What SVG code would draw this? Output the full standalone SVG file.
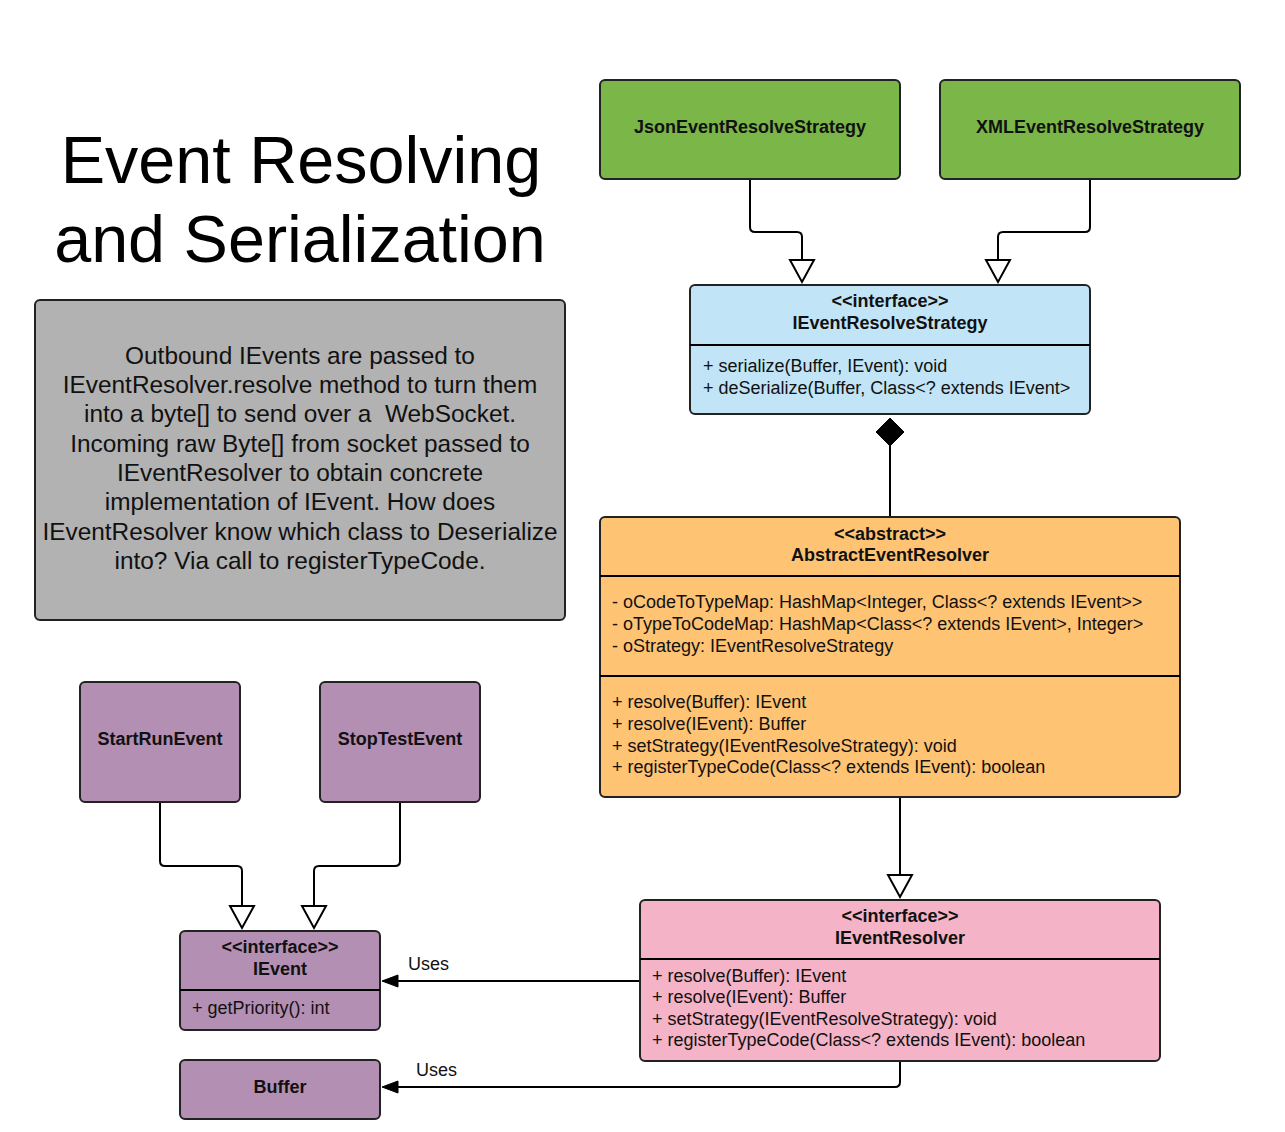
<svg xmlns="http://www.w3.org/2000/svg" width="1285" height="1132" viewBox="0 0 1285 1132">
<style>
.box{stroke:#222;stroke-width:2}
.lbl{font-family:"Liberation Sans",Arial,sans-serif;font-size:18px;font-weight:bold;fill:#111;text-anchor:middle}
.txt{font-family:"Liberation Sans",Arial,sans-serif;font-size:18px;fill:#111}
.note{font-family:"Liberation Sans",Arial,sans-serif;font-size:24.4px;fill:#111;text-anchor:middle}
.title{font-family:"Liberation Sans",Arial,sans-serif;font-size:66.5px;fill:#000;text-anchor:middle}
.ln{fill:none;stroke:#000;stroke-width:2}
.hollow{fill:#fff;stroke:#000;stroke-width:2}
.solid{fill:#000;stroke:#000;stroke-width:1}
</style>
<rect width="1285" height="1132" fill="#fff"/>
<g id="title">
<text class="title" x="301" y="183">Event Resolving</text>
<text class="title" x="300" y="262">and Serialization</text>
</g>
<g id="note">
<rect class="box" x="35" y="300" width="530" height="320" rx="5" fill="#b2b2b2"/>
<text class="note" x="300" y="364">Outbound IEvents are passed to</text>
<text class="note" x="300" y="393">IEventResolver.resolve method to turn them</text>
<text class="note" x="300" y="422" xml:space="preserve">into a byte[] to send over a  WebSocket.</text>
<text class="note" x="300" y="452">Incoming raw Byte[] from socket passed to</text>
<text class="note" x="300" y="481">IEventResolver to obtain concrete</text>
<text class="note" x="300" y="510">implementation of IEvent. How does</text>
<text class="note" x="300" y="540">IEventResolver know which class to Deserialize</text>
<text class="note" x="300" y="569">into? Via call to registerTypeCode.</text>
</g>
<g id="connectors">
<path class="ln" d="M750 179 V227 Q750 232 755 232 H797 Q802 232 802 237 V260"/>
<polygon class="hollow" points="790,260 814,260 802,282"/>
<path class="ln" d="M1090 179 V227 Q1090 232 1085 232 H1003 Q998 232 998 237 V260"/>
<polygon class="hollow" points="986,260 1010,260 998,282"/>
<path class="ln" d="M890 446 V517"/>
<polygon class="solid" points="890,418 904,432 890,446 876,432"/>
<path class="ln" d="M900 797 V875"/>
<polygon class="hollow" points="888,875 912,875 900,897"/>
<path class="ln" d="M160 802 V861 Q160 866 165 866 H237 Q242 866 242 871 V906"/>
<polygon class="hollow" points="230,906 254,906 242,928"/>
<path class="ln" d="M400 802 V861 Q400 866 395 866 H319 Q314 866 314 871 V906"/>
<polygon class="hollow" points="302,906 326,906 314,928"/>
<path class="ln" d="M640 981 H396"/>
<polygon class="solid" points="382,981 398,975 398,987"/>
<text class="txt" x="408" y="970">Uses</text>
<path class="ln" d="M900 1061 V1082 Q900 1087 895 1087 H396"/>
<polygon class="solid" points="382,1087 398,1081 398,1093"/>
<text class="txt" x="416" y="1076">Uses</text>
</g>
<g id="json">
<rect class="box" x="600" y="80" width="300" height="99" rx="5" fill="#7ab648"/>
<text class="lbl" x="750" y="133">JsonEventResolveStrategy</text>
</g>
<g id="xml">
<rect class="box" x="940" y="80" width="300" height="99" rx="5" fill="#7ab648"/>
<text class="lbl" x="1090" y="133">XMLEventResolveStrategy</text>
</g>
<g id="ieventresolvestrategy">
<rect class="box" x="690" y="285" width="400" height="129" rx="5" fill="#c1e4f7"/>
<line class="ln" x1="690" y1="345" x2="1090" y2="345"/>
<text class="lbl" x="890" y="307">&lt;&lt;interface&gt;&gt;</text>
<text class="lbl" x="890" y="329">IEventResolveStrategy</text>
<text class="txt" x="703" y="372">+ serialize(Buffer, IEvent): void</text>
<text class="txt" x="703" y="394">+ deSerialize(Buffer, Class&lt;? extends IEvent&gt;</text>
</g>
<g id="abstracteventresolver">
<rect class="box" x="600" y="517" width="580" height="280" rx="5" fill="#ffc374"/>
<line class="ln" x1="600" y1="576" x2="1180" y2="576"/>
<line class="ln" x1="600" y1="676" x2="1180" y2="676"/>
<text class="lbl" x="890" y="540">&lt;&lt;abstract&gt;&gt;</text>
<text class="lbl" x="890" y="561">AbstractEventResolver</text>
<text class="txt" x="612" y="608">- oCodeToTypeMap: HashMap&lt;Integer, Class&lt;? extends IEvent&gt;&gt;</text>
<text class="txt" x="612" y="630">- oTypeToCodeMap: HashMap&lt;Class&lt;? extends IEvent&gt;, Integer&gt;</text>
<text class="txt" x="612" y="652">- oStrategy: IEventResolveStrategy</text>
<text class="txt" x="612" y="708">+ resolve(Buffer): IEvent</text>
<text class="txt" x="612" y="730">+ resolve(IEvent): Buffer</text>
<text class="txt" x="612" y="752">+ setStrategy(IEventResolveStrategy): void</text>
<text class="txt" x="612" y="773">+ registerTypeCode(Class&lt;? extends IEvent): boolean</text>
</g>
<g id="ieventresolver">
<rect class="box" x="640" y="900" width="520" height="161" rx="5" fill="#f4b3c6"/>
<line class="ln" x1="640" y1="959" x2="1160" y2="959"/>
<text class="lbl" x="900" y="922">&lt;&lt;interface&gt;&gt;</text>
<text class="lbl" x="900" y="944">IEventResolver</text>
<text class="txt" x="652" y="982">+ resolve(Buffer): IEvent</text>
<text class="txt" x="652" y="1003">+ resolve(IEvent): Buffer</text>
<text class="txt" x="652" y="1025">+ setStrategy(IEventResolveStrategy): void</text>
<text class="txt" x="652" y="1046">+ registerTypeCode(Class&lt;? extends IEvent): boolean</text>
</g>
<g id="startrunevent">
<rect class="box" x="80" y="682" width="160" height="120" rx="5" fill="#b48fb4"/>
<text class="lbl" x="160" y="745">StartRunEvent</text>
</g>
<g id="stoptestevent">
<rect class="box" x="320" y="682" width="160" height="120" rx="5" fill="#b48fb4"/>
<text class="lbl" x="400" y="745">StopTestEvent</text>
</g>
<g id="ievent">
<rect class="box" x="180" y="931" width="200" height="99" rx="5" fill="#b48fb4"/>
<line class="ln" x1="180" y1="990" x2="380" y2="990"/>
<text class="lbl" x="280" y="953">&lt;&lt;interface&gt;&gt;</text>
<text class="lbl" x="280" y="975">IEvent</text>
<text class="txt" x="192" y="1014">+ getPriority(): int</text>
</g>
<g id="buffer">
<rect class="box" x="180" y="1060" width="200" height="59" rx="5" fill="#b48fb4"/>
<text class="lbl" x="280" y="1093">Buffer</text>
</g>
</svg>
